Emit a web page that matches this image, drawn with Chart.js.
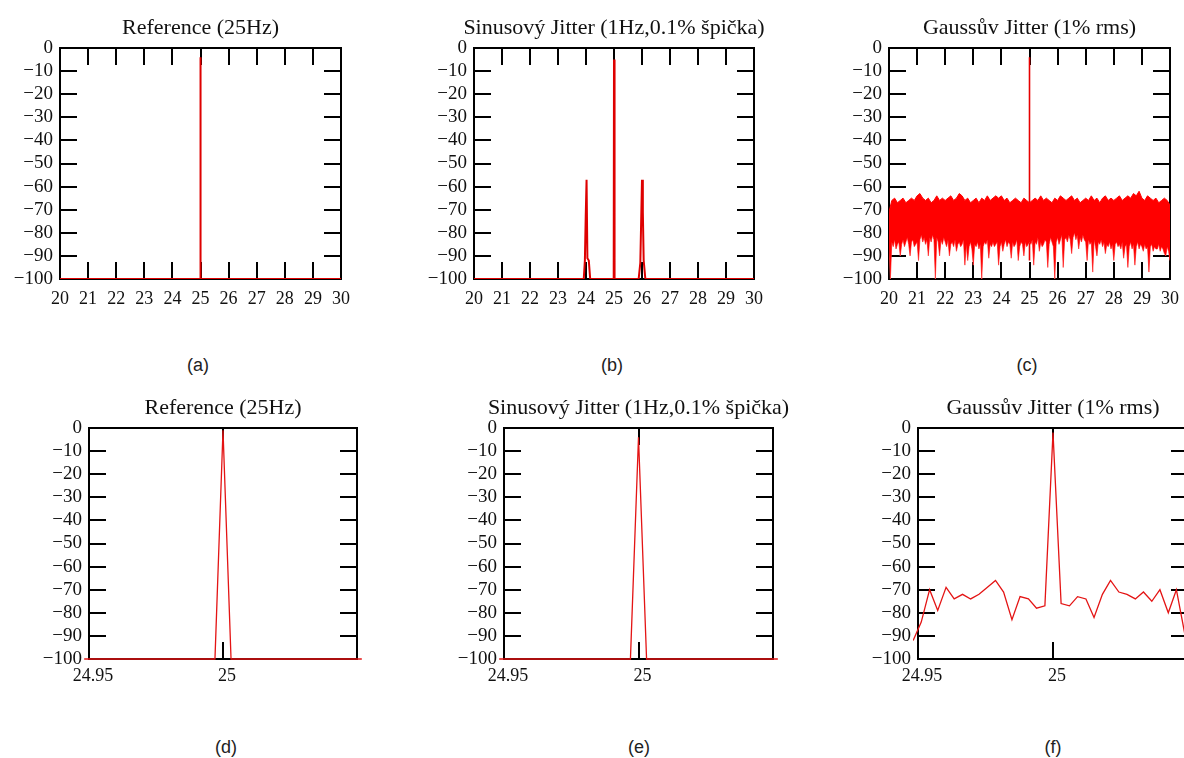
<!DOCTYPE html>
<html><head><meta charset="utf-8">
<script src="https://cdn.jsdelivr.net/npm/chart.js@4.4.0/dist/chart.umd.min.js"></script>
<style>
html,body{margin:0;padding:0;background:#fff;width:1184px;height:758px;overflow:hidden;position:relative}
canvas{position:absolute}
.lbl{position:absolute;font-family:"Liberation Sans",Arial,sans-serif;font-size:18px;color:#222;transform:translate(-50%,-50%);white-space:nowrap}
</style></head><body>
<canvas id="ca"></canvas><canvas id="cb"></canvas><canvas id="cc"></canvas>
<canvas id="cd"></canvas><canvas id="ce"></canvas><canvas id="cf"></canvas>
<div class="lbl" style="left:198px;top:365px">(a)</div>
<div class="lbl" style="left:612px;top:365px">(b)</div>
<div class="lbl" style="left:1027px;top:365px">(c)</div>
<div class="lbl" style="left:226px;top:747px">(d)</div>
<div class="lbl" style="left:639px;top:747px">(e)</div>
<div class="lbl" style="left:1053px;top:747px">(f)</div>
<script>
// ===== Titles =====
const titles = ["Reference (25Hz)", "Sinusový Jitter (1Hz,0.1% špička)", "Gaussův Jitter (1% rms)"];

// ===== Top row: 20-30 Hz =====
const yTicksDb = [-100, -90, -80, -70, -60, -50, -40, -30, -20, -10, 0];
const wideTicksHz = [20, 21, 22, 23, 24, 25, 26, 27, 28, 29, 30];

// (a) reference
const refFreq = [20, 24.997, 25, 25.003, 30];
const refDb   = [-100, -100, -4, -100, -100];

// (b) sinusoidal jitter
const sinFreq = [20, 23.92, 23.96, 23.99, 24.02, 24.05, 24.10, 24.15, 24.97, 24.99, 25.00, 25.01, 25.03, 25.88, 25.94, 26.00, 26.03, 26.06, 26.12, 30];
const sinDb   = [-100, -100, -92, -73, -57, -91, -92, -100, -100, -93, -5, -93, -100, -100, -93, -57, -71, -92, -100, -100];

// (c) gaussian jitter: noise band top edge (0.1 Hz grid) and bottom edge (0.05 Hz grid), plus carrier
const noiseStartHz = 20;
const gaussUpperDb = [
 -71,-66,-65,-67,-66,-65,-67,-66,-65,-66,
 -64,-63,-65,-66,-65,-67,-66,-64,-66,-65,
 -66,-65,-64,-66,-65,-63,-64,-66,-65,-67,
 -66,-65,-67,-65,-66,-64,-66,-65,-64,-65,
 -64,-66,-65,-67,-66,-65,-66,-67,-65,-66,
 -67,-66,-65,-66,-64,-66,-65,-66,-67,-65,
 -66,-64,-65,-66,-65,-64,-66,-65,-67,-66,
 -65,-66,-64,-66,-65,-67,-65,-64,-66,-65,
 -66,-65,-64,-66,-65,-64,-65,-63,-64,-62,
 -65,-66,-64,-65,-66,-65,-67,-66,-65,-66,
 -68];
const gaussLowerDb = [
 -86,-100,-84,-86,-83,-87,-85,-84,-90,-85,
 -83,-86,-84,-82,-85,-90,-84,-83,-86,-85,
 -84,-92,-83,-81,-84,-82,-85,-83,-90,-82,
 -84,-81,-83,-100,-82,-84,-90,-83,-85,-82,
 -84,-86,-83,-90,-85,-84,-86,-83,-88,-85,
 -84,-86,-85,-83,-94,-85,-92,-86,-84,-87,
 -94,-85,-86,-84,-87,-85,-100,-86,-84,-85,
 -83,-91,-85,-86,-84,-86,-85,-84,-94,-86,
 -84,-88,-85,-83,-86,-84,-85,-91,-84,-86,
 -85,-83,-92,-86,-84,-85,-90,-84,-86,-85,
 -84,-85,-83,-94,-84,-85,-82,-88,-84,-86,
 -85,-83,-84,-95,-85,-82,-84,-86,-100,-84,
 -82,-85,-83,-81,-95,-83,-82,-84,-81,-83,
 -89,-82,-80,-83,-81,-87,-82,-84,-81,-83,
 -84,-92,-83,-85,-84,-97,-83,-86,-90,-84,
 -85,-83,-86,-84,-89,-85,-86,-84,-87,-85,
 -92,-85,-84,-86,-85,-87,-84,-91,-86,-85,
 -95,-86,-84,-87,-85,-94,-86,-84,-87,-85,
 -86,-88,-85,-87,-86,-97,-86,-85,-88,-86,
 -87,-87,-85,-88,-86,-87,-89,-90,-86,-88,
 -92];
const gaussSpikeFreq = [25, 25];
const gaussSpikeDb = [-92, -4];

// ===== Bottom row: zoom 24.95-25.05 Hz =====
const zoomTicksHz = [24.95, 25];
const zoomFreq = [24.9482,24.9512,24.9543,24.9573,24.9604,24.9634,24.9665,24.9695,24.9726,24.9756,24.9787,24.9817,24.9848,24.9878,24.9909,24.9939,24.9970,
  25.0000,
  25.0030,25.0061,25.0091,25.0122,25.0152,25.0183,25.0213,25.0244,25.0274,25.0305,25.0335,25.0366,25.0396,25.0427,25.0457,25.0488,25.0518];
const refZoomDb = [-100,-100,-100,-100,-100,-100,-100,-100,-100,-100,-100,-100,-100,-100,-100,-100,-100,
  -1,
  -100,-100,-100,-100,-100,-100,-100,-100,-100,-100,-100,-100,-100,-100,-100,-100,-100];
const sinZoomDb = [-100,-100,-100,-100,-100,-100,-100,-100,-100,-100,-100,-100,-100,-100,-100,-100,-100,
  -4,
  -100,-100,-100,-100,-100,-100,-100,-100,-100,-100,-100,-100,-100,-100,-100,-100,-100];
const gaussZoomDb = [-92,-84,-70,-79,-69,-74,-72,-74,-72,-69,-66,-71,-83,-73,-74,-78,-77,
  -2,
  -76,-77,-73,-74,-82,-72,-66,-71,-72,-74,-71,-75,-70,-80,-70,-89,-93];

// ===== helpers =====
const PL = 70, PT = 40, PB = 40, PR = 70;
const serif = "'Liberation Serif','Times New Roman',serif";
function pts(xs, ys) { return xs.map((x, i) => ({x: x, y: ys[i]})); }
const gridOpt = {drawOnChartArea: false, drawTicks: true, tickLength: -17, lineWidth: 2, color: '#000'};
const borderOpt = {display: true, width: 2, color: '#000'};
const fmtDb = v => v < 0 ? '\u2212' + (-v) : String(v);

function makeChart(id, box, title, datasets, xr) {
  const cv = document.getElementById(id);
  const w = box.w + PL + PR, h = box.h + PT + PB;
  cv.width = w; cv.height = h;
  cv.style.left = (box.x - PL) + 'px'; cv.style.top = (box.y - PT) + 'px';
  cv.style.width = w + 'px'; cv.style.height = h + 'px';
  const setTicks = s => { s.ticks = xr.ticks.map(v => ({value: v})); };
  new Chart(cv, {
    type: 'line',
    data: {datasets: datasets},
    options: {
      responsive: false, animation: false, devicePixelRatio: 1,
      layout: {padding: 0, autoPadding: false},
      plugins: {
        legend: {display: false}, tooltip: {enabled: false},
        title: {display: true, text: title, fullSize: true, color: '#111',
          font: {family: serif, size: 22, weight: 'normal', lineHeight: '24px'},
          padding: {top: 8, bottom: 8}}
      },
      elements: {point: {radius: 0}, line: {tension: 0}},
      scales: {
        x: {type: 'linear', position: 'bottom', min: xr.min, max: xr.max,
          grid: gridOpt, border: borderOpt,
          afterBuildTicks: setTicks,
          ticks: {color: '#111', font: {family: serif, size: 18}, padding: xr.pad, autoSkip: false, maxRotation: 0,
            labelOffset: xr.labelOffset, callback: v => String(Math.round(v * 100) / 100)},
          afterFit: s => { s.height = PB; }},
        x2: {type: 'linear', position: 'top', min: xr.min, max: xr.max,
          grid: gridOpt, border: borderOpt, afterBuildTicks: setTicks,
          ticks: {display: false}, afterFit: s => { s.height = 0; }},
        y: {type: 'linear', position: 'left', min: -100, max: 0,
          grid: gridOpt, border: borderOpt,
          afterBuildTicks: s => { s.ticks = yTicksDb.map(v => ({value: v})); },
          ticks: {color: '#111', font: {family: serif, size: 19}, padding: 24, autoSkip: false, callback: fmtDb},
          afterFit: s => { s.width = PL; }},
        y2: {type: 'linear', position: 'right', min: -100, max: 0,
          grid: gridOpt, border: borderOpt,
          afterBuildTicks: s => { s.ticks = yTicksDb.map(v => ({value: v})); },
          ticks: {display: false, autoSkip: false}, afterFit: s => { s.width = PR; }}
      }
    }
  });
}

const wideRange = {min: 20, max: 30, ticks: wideTicksHz, labelOffset: 0, pad: 26};
const zoomRange = {min: 24.95, max: 25.05, ticks: zoomTicksHz, labelOffset: 4, pad: 23};
const zoomClip = {left: 5, top: 2, right: 6, bottom: 2};

const spikeLine = (xs, ys) => ({data: pts(xs, ys), borderColor: 'rgb(222,0,0)', borderWidth: 2, fill: false, pointRadius: 0});
const zoomLine = (ys) => ({data: pts(zoomFreq, ys), borderColor: 'rgb(228,20,20)', borderWidth: 1.3, fill: false, pointRadius: 0, clip: zoomClip});

makeChart('ca', {x: 60, y: 48, w: 281, h: 231}, titles[0], [spikeLine(refFreq, refDb)], wideRange);
makeChart('cb', {x: 474, y: 48, w: 280, h: 231}, titles[1], [spikeLine(sinFreq, sinDb)], wideRange);

const upperFreq = gaussUpperDb.map((_, i) => +(noiseStartHz + i * 0.1).toFixed(2));
const lowerFreq = gaussLowerDb.map((_, i) => +(noiseStartHz + i * 0.05).toFixed(2));
makeChart('cc', {x: 889, y: 48, w: 281, h: 231}, titles[2], [
  {data: pts(upperFreq, gaussUpperDb), borderColor: 'rgb(255,0,0)', borderWidth: 1, backgroundColor: 'rgb(255,0,0)', fill: '+1', pointRadius: 0},
  {data: pts(lowerFreq, gaussLowerDb), borderColor: 'rgba(255,70,70,0.85)', borderWidth: 1, fill: false, pointRadius: 0},
  {data: pts(gaussSpikeFreq, gaussSpikeDb), borderColor: 'rgb(230,0,0)', borderWidth: 1.6, fill: false, pointRadius: 0}
], wideRange);

makeChart('cd', {x: 89, y: 428, w: 268, h: 231}, titles[0], [zoomLine(refZoomDb)], zoomRange);
makeChart('ce', {x: 504, y: 428, w: 269, h: 231}, titles[1], [zoomLine(sinZoomDb)], zoomRange);
makeChart('cf', {x: 918, y: 428, w: 270, h: 231}, titles[2], [zoomLine(gaussZoomDb)], zoomRange);
</script>
</body></html>
